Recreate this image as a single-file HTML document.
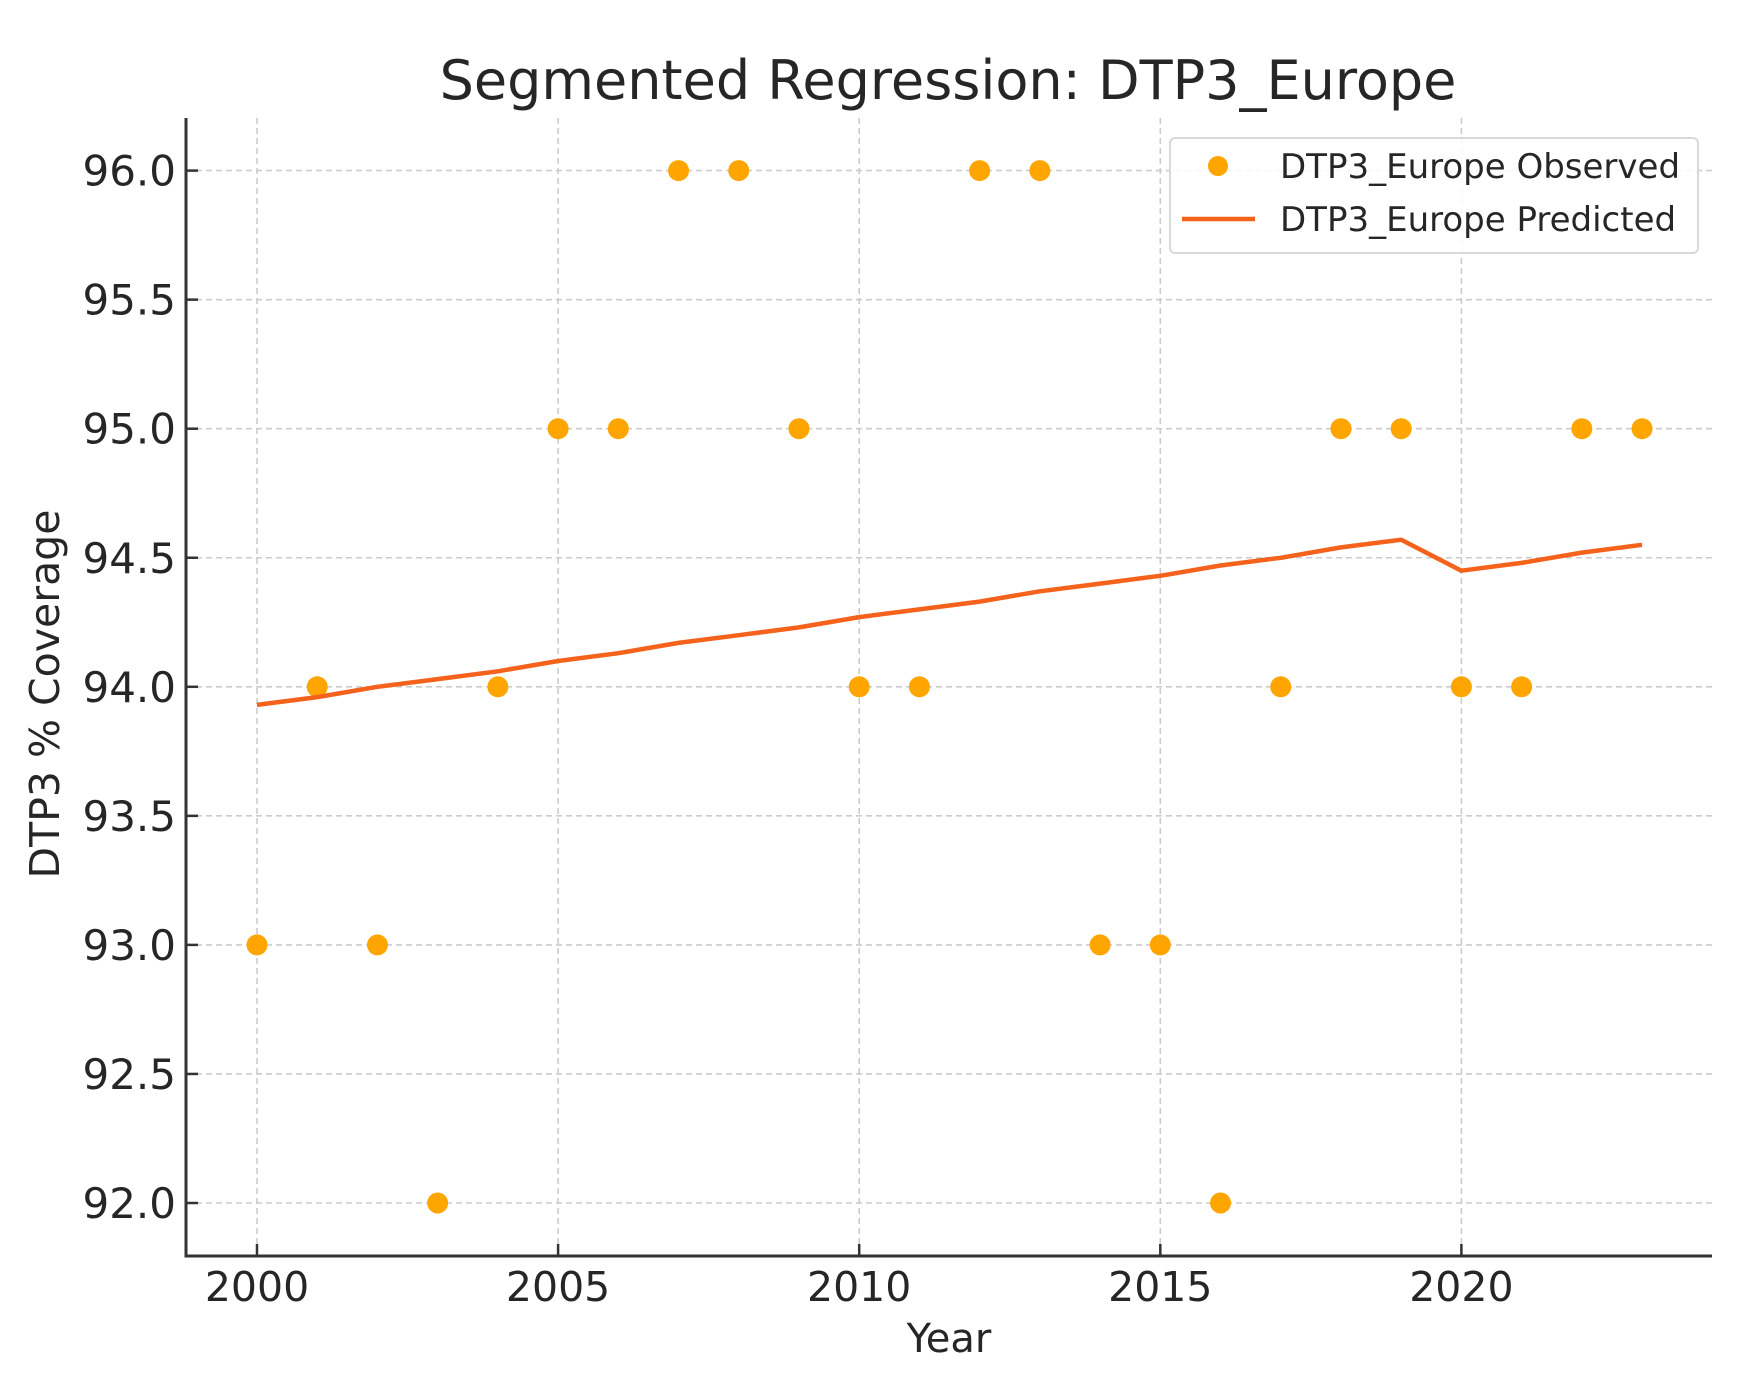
<!DOCTYPE html>
<html><head><meta charset="utf-8"><style>
html,body{margin:0;padding:0;background:#fff;}
svg{display:block;font-family:"DejaVu Sans","Liberation Sans",sans-serif;}
</style></head><body>
<svg id="chart" width="1753" height="1386" viewBox="0 0 1753 1386" xmlns="http://www.w3.org/2000/svg">
<rect width="1753" height="1386" fill="#fff"/>
<text x="948" y="99" font-size="54" text-anchor="middle" fill="#262626">Segmented Regression: DTP3_Europe</text>
<g id="grid"></g>
<g id="axes"></g>
<g id="series"></g>
<text x="949" y="1352" font-size="40" text-anchor="middle" fill="#262626">Year</text>
<text transform="translate(59,694) rotate(-90)" font-size="41" text-anchor="middle" fill="#262626">DTP3 % Coverage</text>
<g>
<rect x="1170" y="138" width="528" height="115" rx="5" fill="#fff" fill-opacity="0.85" stroke="#d8d8d8" stroke-width="2"/>
<circle cx="1218" cy="166" r="10" fill="#FFA500"/>
<text x="1280" y="178" font-size="34" fill="#262626">DTP3_Europe Observed</text>
<line x1="1182" y1="219" x2="1255" y2="219" stroke="#F4621C" stroke-width="4.5"/>
<text x="1280" y="231" font-size="34" fill="#262626">DTP3_Europe Predicted</text>
</g>
</svg>
<script>
const years = [2000,2001,2002,2003,2004,2005,2006,2007,2008,2009,2010,2011,2012,2013,2014,2015,2016,2017,2018,2019,2020,2021,2022,2023];
const observed = [93,94,93,92,94,95,95,96,96,95,94,94,96,96,93,93,92,94,95,95,94,94,95,95];
const predicted = [93.93,93.96,94.00,94.03,94.06,94.10,94.13,94.17,94.20,94.23,94.27,94.30,94.33,94.37,94.40,94.43,94.47,94.50,94.54,94.57,94.45,94.48,94.52,94.55];
const xTicks = [2000,2005,2010,2015,2020];
const yTicks = [92.0,92.5,93.0,93.5,94.0,94.5,95.0,95.5,96.0];

const NS = "http://www.w3.org/2000/svg";
const X0 = 186, X1 = 1712, Y0 = 118, Y1 = 1256;
function xs(v){ return 257 + (v - 2000) * 60.22; }
function ys(v){ return 1203 - (v - 92) * 258.1; }
function mk(tag, attrs, parent){ const e = document.createElementNS(NS, tag); for (const k in attrs) e.setAttribute(k, attrs[k]); parent.appendChild(e); return e; }
const grid = document.getElementById('grid'), axes = document.getElementById('axes'), series = document.getElementById('series');

xTicks.forEach(t => {
  const g = mk('line', {x1: xs(t), x2: xs(t), y1: Y0, y2: Y1, stroke: '#cccccc', 'stroke-width': 1.6, 'stroke-dasharray': '6,4'}, grid);
  
  
  const tk = mk('line', {x1: xs(t), x2: xs(t), y1: Y1, y2: Y1 - 12, stroke: '#333', 'stroke-width': 2.5}, axes);
  
  
  const lb = mk('text', {x: xs(t), y: 1301, 'font-size': 41, 'text-anchor': 'middle', fill: '#262626'}, axes);
  lb.textContent = t;
  
  
});
yTicks.forEach(t => {
  const g = mk('line', {x1: X0, x2: X1, y1: ys(t), y2: ys(t), stroke: '#cccccc', 'stroke-width': 1.6, 'stroke-dasharray': '6,4'}, grid);
  
  
  const tk = mk('line', {x1: X0, x2: X0 + 12, y1: ys(t), y2: ys(t), stroke: '#333', 'stroke-width': 2.5}, axes);
  
  
  const lb = mk('text', {x: 176, y: ys(t) + 15, 'font-size': 42, 'text-anchor': 'end', fill: '#262626'}, axes);
  lb.textContent = t.toFixed(1);
  
  
});
const ya = mk('line', {x1: X0, x2: X0, y1: Y0, y2: Y1 + 1.5, stroke: '#333', 'stroke-width': 3}, axes);


const xa = mk('line', {x1: X0 - 1.5, x2: X1, y1: Y1, y2: Y1, stroke: '#333', 'stroke-width': 3}, axes);



observed.forEach((v, i) => {
  const c = mk('circle', {cx: xs(years[i]), cy: ys(v), r: 10.5, fill: '#FFA500'}, series);
  
  
});
const pts = predicted.map((v, i) => xs(years[i]).toFixed(1) + ',' + ys(v).toFixed(1)).join(' ');
const pl = mk('polyline', {points: pts, fill: 'none', stroke: '#F4621C', 'stroke-width': 4.5, 'stroke-linejoin': 'round'}, series);


</script>
</body></html>
